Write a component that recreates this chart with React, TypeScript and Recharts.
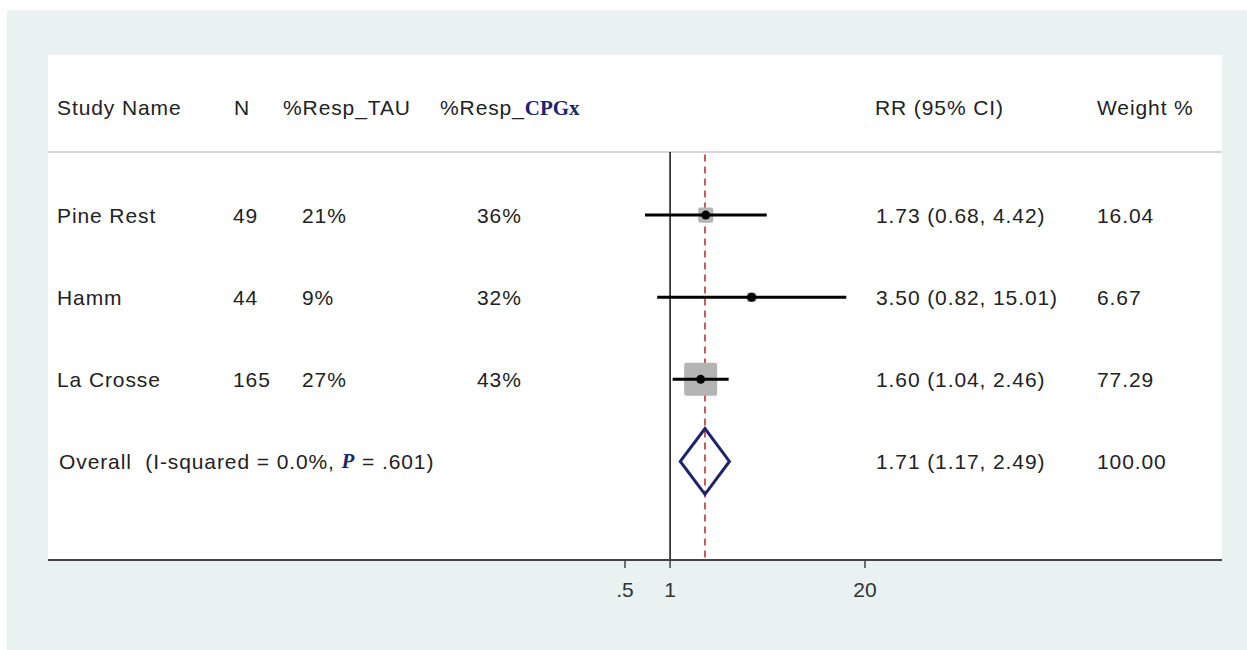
import React from 'react';
import { ComposedChart, Scatter, XAxis, YAxis, ReferenceLine } from 'recharts';

// ---------------- data ----------------
const studyNames = ['Pine Rest', 'Hamm', 'La Crosse'];
const sampleSizes = [49, 44, 165];
const respTau = ['21%', '9%', '27%'];
const respCpgx = ['36%', '32%', '43%'];
const riskRatios = [1.73, 3.5, 1.6];
const ciLower = [0.68, 0.82, 1.04];
const ciUpper = [4.42, 15.01, 2.46];
const weights = [16.04, 6.67, 77.29];
const studyRows = [2, 3, 4];

const overallLabel = 'Overall  (I-squared = 0.0%, ';
const overallP = '.601';
const overallRR = 1.71;
const overallLower = 1.17;
const overallUpper = 2.49;
const overallWeight = 100;
const overallRow = 5;

const xTicks = [0.5, 1, 20];
const headerLabels = ['Study Name', 'N', '%Resp_TAU', '%Resp_', 'RR (95% CI)', 'Weight %'];
const headerBold = 'CPGx';

// ---------------- layout / style ----------------
const W = 1247;
const H = 650;
const FONT = '"Liberation Sans", Arial, sans-serif';
const SERIF = '"Liberation Serif", "Times New Roman", serif';
const FS = 21;
const LS = 0.9;
const TEXT_COLOR = '#222';
const NAVY = '#1c2470';
const X_MIN = 7.03e-5;
const X_MAX = 4837;
const Y_DOMAIN: [number, number] = [0.05, 6.2];
const HEADER_ROW = 0.695;
const SEPARATOR_ROW = 1.231;
const DIAMOND_HALF = 0.4;
const SQUARE_K = 3.75;
const HEAD_COL = { name: 57, n: 234, tau: 283, cpgx: 440, rr: 875, weight: 1097 };
const COL = { name: 57, overall: 59, n: 233, tau: 302, cpgx: 477, rr: 876, weight: 1097 };

const fmtCI = (r: number, l: number, u: number) => `${r.toFixed(2)} (${l.toFixed(2)}, ${u.toFixed(2)})`;

const studyData = studyNames.map((name, i) => ({
  x: riskRatios[i],
  y: studyRows[i],
  weight: weights[i],
}));

const ciLines = studyNames.map((name, i) => [
  { x: ciLower[i], y: studyRows[i] },
  { x: ciUpper[i], y: studyRows[i] },
]);

const tableData = [
  { x: 1, y: HEADER_ROW, kind: 'header' },
  ...studyNames.map((name, i) => ({
    x: 1,
    y: studyRows[i],
    kind: 'study',
    cells: [name, String(sampleSizes[i]), respTau[i], respCpgx[i], fmtCI(riskRatios[i], ciLower[i], ciUpper[i]), weights[i].toFixed(2)],
  })),
  {
    x: 1,
    y: overallRow,
    kind: 'overall',
    cells: [fmtCI(overallRR, overallLower, overallUpper), overallWeight.toFixed(2)],
  },
];

const diamondData = [
  { x: overallLower, y: overallRow },
  { x: overallRR, y: overallRow - DIAMOND_HALF },
  { x: overallUpper, y: overallRow },
  { x: overallRR, y: overallRow + DIAMOND_HALF },
  { x: overallLower, y: overallRow },
  { x: overallRR, y: overallRow - DIAMOND_HALF },
];

const txtProps = {
  fontFamily: FONT,
  fontSize: FS,
  letterSpacing: LS,
  fill: TEXT_COLOR,
  dominantBaseline: 'central' as const,
  style: { whiteSpace: 'pre' as const },
};

const TableRow = (props: any) => {
  const { cy, payload } = props;
  if (payload.kind === 'header') {
    return (
      <g>
        <text x={HEAD_COL.name} y={cy} {...txtProps}>{headerLabels[0]}</text>
        <text x={HEAD_COL.n} y={cy} {...txtProps}>{headerLabels[1]}</text>
        <text x={HEAD_COL.tau} y={cy} {...txtProps}>{headerLabels[2]}</text>
        <text x={HEAD_COL.cpgx} y={cy} {...txtProps}>
          {headerLabels[3]}
          <tspan fontFamily={SERIF} fontWeight="bold" fill={NAVY} letterSpacing={0}>{headerBold}</tspan>
        </text>
        <text x={HEAD_COL.rr} y={cy} {...txtProps}>{headerLabels[4]}</text>
        <text x={HEAD_COL.weight} y={cy} {...txtProps}>{headerLabels[5]}</text>
      </g>
    );
  }
  if (payload.kind === 'overall') {
    return (
      <g>
        <text x={COL.overall} y={cy} {...txtProps}>
          {overallLabel}
          <tspan fontFamily={SERIF} fontWeight="bold" fontStyle="italic" fill={NAVY}>P</tspan>
          {` = ${overallP})`}
        </text>
        <text x={COL.rr} y={cy} {...txtProps}>{payload.cells[0]}</text>
        <text x={COL.weight} y={cy} {...txtProps}>{payload.cells[1]}</text>
      </g>
    );
  }
  const c = payload.cells;
  return (
    <g>
      <text x={COL.name} y={cy} {...txtProps}>{c[0]}</text>
      <text x={COL.n} y={cy} {...txtProps}>{c[1]}</text>
      <text x={COL.tau} y={cy} {...txtProps}>{c[2]}</text>
      <text x={COL.cpgx} y={cy} {...txtProps}>{c[3]}</text>
      <text x={COL.rr} y={cy} {...txtProps}>{c[4]}</text>
      <text x={COL.weight} y={cy} {...txtProps}>{c[5]}</text>
    </g>
  );
};

const WeightSquare = (props: any) => {
  const { cx, cy, payload } = props;
  const s = SQUARE_K * Math.sqrt(payload.weight);
  return <rect x={cx - s / 2} y={cy - s / 2} width={s} height={s} rx={2} fill="#b4b4b4" />;
};

const PointDot = (props: any) => {
  const { cx, cy } = props;
  return <circle cx={cx} cy={cy} r={4.5} fill="#000" />;
};

const Empty = () => <g />;

export default function App() {
  return (
    <div style={{ position: 'absolute', left: 0, top: 0, width: W, height: H }}>
      <div style={{ position: 'absolute', left: 7, top: 10, width: 1240, height: 640, background: '#e9f2f1' }} />
      <div style={{ position: 'absolute', left: 48, top: 55, width: 1174, height: 505, background: '#ffffff' }} />
      <div style={{ position: 'absolute', left: 0, top: 0 }}>
        <ComposedChart width={W} height={H} margin={{ top: 55, left: 48, right: 25, bottom: 60 }}>
          <XAxis
            dataKey="x"
            type="number"
            scale="log"
            domain={[X_MIN, X_MAX]}
            allowDataOverflow
            ticks={xTicks}
            interval={0}
            tickFormatter={(v: number) => String(v).replace(/^0\./, '.')}
            tick={{ fontSize: FS, fill: '#333', fontFamily: FONT }}
            axisLine={{ stroke: '#444', strokeWidth: 2 }}
            tickLine={{ stroke: '#444', strokeWidth: 1.5 }}
            tickSize={8}
            tickMargin={14}
            height={30}
          />
          <YAxis dataKey="y" type="number" domain={Y_DOMAIN} reversed hide width={0} allowDataOverflow />
          <ReferenceLine y={SEPARATOR_ROW} stroke="#c8c8c8" strokeWidth={1.5} />
          <ReferenceLine
            segment={[{ x: 1, y: SEPARATOR_ROW }, { x: 1, y: Y_DOMAIN[1] }]}
            stroke="#111"
            strokeWidth={1.5}
          />
          <ReferenceLine
            segment={[{ x: overallRR, y: SEPARATOR_ROW + 0.03 }, { x: overallRR, y: Y_DOMAIN[1] }]}
            stroke="#b22a2a"
            strokeWidth={1.5}
            strokeDasharray="7 5"
          />
          <Scatter data={studyData} shape={WeightSquare} isAnimationActive={false} />
          {ciLines.map((pts, i) => (
            <Scatter
              key={`ci-${i}`}
              data={pts}
              shape={Empty}
              line={{ stroke: '#000', strokeWidth: 3, fill: 'none' }}
              lineJointType="linear"
              isAnimationActive={false}
            />
          ))}
          <Scatter data={studyData} shape={PointDot} isAnimationActive={false} />
          <Scatter
            data={diamondData}
            shape={Empty}
            line={{ stroke: NAVY, strokeWidth: 3, fill: 'none' }}
            lineJointType="linear"
            isAnimationActive={false}
          />
          <Scatter data={tableData} shape={TableRow} isAnimationActive={false} />
        </ComposedChart>
      </div>
    </div>
  );
}
